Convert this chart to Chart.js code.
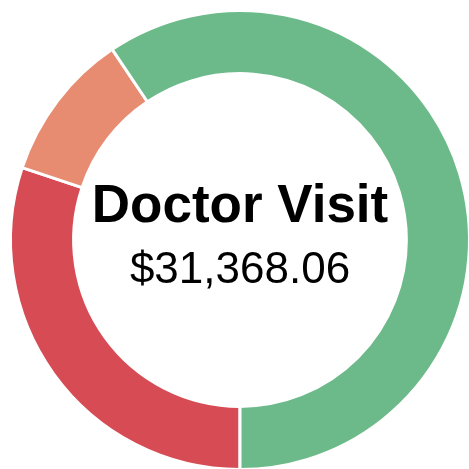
<!DOCTYPE html>
<html>
<head>
<meta charset="utf-8">
<script src="https://cdn.jsdelivr.net/npm/chart.js@4"></script>
<style>
  html, body { margin: 0; padding: 0; background: #fff; overflow: hidden; }
  #wrap { width: 480px; height: 480px; }
</style>
</head>
<body>
<div id="wrap"><canvas id="chartExpenses"></canvas></div>
<script>
// expense doughnut
const categories = ['Hospital Stay', 'Prescriptions', 'Doctor Visit'];
const amounts = [15896.40, 5545.20, 31368.06];
const colors = ['#d64b54', '#e78b71', '#6cba8a'];

const focusIndex = 2;

const centerText = {
  id: 'centerText',
  afterDraw(chart) {
    const ctx = chart.ctx;
    const meta = chart.getDatasetMeta(0).data[0];
    const x = meta.x, y = meta.y;
    ctx.save();
    ctx.fillStyle = '#000';
    ctx.textAlign = 'center';
    ctx.textBaseline = 'middle';
    ctx.font = 'bold 53px "Liberation Sans", Arial, sans-serif';
    ctx.fillText(categories[focusIndex], x, y - 33);
    ctx.font = '44px "Liberation Sans", Arial, sans-serif';
    const val = '$' + amounts[focusIndex].toLocaleString('en-US', { minimumFractionDigits: 2, maximumFractionDigits: 2 });
    ctx.fillText(val, x, y + 31);
    ctx.restore();
  }
};

new Chart(document.getElementById('chartExpenses').getContext('2d'), {
  type: 'doughnut',
  data: {
    labels: categories,
    datasets: [{
      data: amounts,
      backgroundColor: colors,
      borderColor: '#fff',
      borderWidth: 3
    }]
  },
  options: {
    responsive: true,
    maintainAspectRatio: false,
    animation: false,
    rotation: 180,
    cutout: '72.5%',
    layout: { padding: 9 },
    plugins: {
      legend: { display: false },
      tooltip: { enabled: false }
    }
  },
  plugins: [centerText]
});
</script>
</body>
</html>
